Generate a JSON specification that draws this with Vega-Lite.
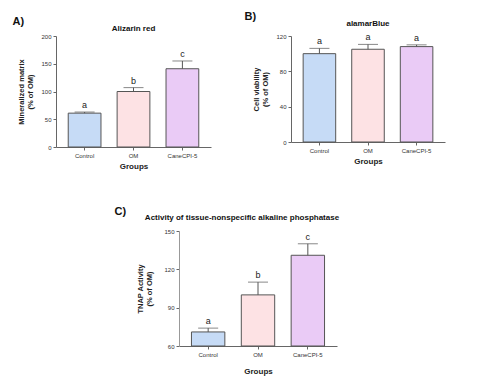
{
  "$schema": "https://vega.github.io/schema/vega-lite/v6.json",
  "background": "white",
  "padding": {"left": 12, "top": 11, "right": 5, "bottom": 5},
  "config": {
    "font": "Liberation Sans",
    "view": {"stroke": null},
    "axis": {"labelFont": "Liberation Sans", "titleFont": "Liberation Sans", "domainColor": "#666", "tickColor": "#666", "labelColor": "#333", "titleColor": "#222", "grid": false, "labelFontSize": 6, "titleFontSize": 7.5, "titleFontWeight": "bold", "tickSize": 3, "labelOverlap": false},
    "title": {"font": "Liberation Sans", "fontWeight": "bold", "color": "#111"}
  },
  "datasets": {
    "A": [
      {"group": "Control", "mean": 61, "err": 2, "letter": "a"},
      {"group": "OM", "mean": 100, "err": 7, "letter": "b"},
      {"group": "CaneCPI-5", "mean": 141, "err": 14, "letter": "c"}
    ],
    "B": [
      {"group": "Control", "mean": 100, "err": 6, "letter": "a"},
      {"group": "OM", "mean": 105, "err": 5.5, "letter": "a"},
      {"group": "CaneCPI-5", "mean": 108, "err": 2, "letter": "a"}
    ],
    "C": [
      {"group": "Control", "mean": 71, "err": 3, "letter": "a"},
      {"group": "OM", "mean": 100, "err": 10, "letter": "b"},
      {"group": "CaneCPI-5", "mean": 131, "err": 9, "letter": "c"}
    ],
    "empty": []
  },
  "spacing": 36,
  "vconcat": [
    {
      "spacing": 33,
      "align": "none",
      "hconcat": [
        {
          "title": {"text": "A)", "anchor": "start", "fontSize": 11, "dx": -5, "offset": -2},
          "vconcat": [
            {
              "title": {"text": "Alizarin red", "fontSize": 8, "offset": 0},
              "width": 155,
              "height": 111,
              "data": {"name": "A"},
              "transform": [{"calculate": "datum.mean + datum.err", "as": "hi"}],
              "encoding": {
                "x": {"field": "group", "type": "nominal", "sort": ["Control", "OM", "CaneCPI-5"], "scale": {"paddingInner": 0.33, "paddingOuter": 0.25}, "axis": {"title": "Groups", "labelAngle": 0, "titleFontSize": 8, "titlePadding": 4}},
                "y": {"field": "mean", "type": "quantitative", "scale": {"domain": [0, 200]}, "axis": {"values": [0, 50, 100, 150, 200], "title": ["Mineralized matrix", "(% of OM)"], "titlePadding": 6}}
              },
              "layer": [
                {"mark": {"type": "bar", "stroke": "#555", "strokeWidth": 1},
                 "encoding": {
                   "color": {"field": "group", "type": "nominal", "scale": {"domain": ["Control", "OM", "CaneCPI-5"], "range": ["#c6dbf6", "#fde2e4", "#eacbf6"]}, "legend": null}
                 }},
                {"mark": {"type": "rule", "color": "#555"}, "encoding": {"y2": {"field": "hi"}}},
                {"mark": {"type": "tick", "color": "#555", "size": 20, "thickness": 1, "orient": "horizontal"}, "encoding": {"y": {"field": "hi", "type": "quantitative", "scale": {"domain": [0, 200]}, "axis": {"values": [0, 50, 100, 150, 200], "title": ["Mineralized matrix", "(% of OM)"], "titlePadding": 6}}}},
                {"mark": {"type": "text", "fontSize": 9, "dy": -7, "color": "#222"}, "encoding": {"y": {"field": "hi", "type": "quantitative", "scale": {"domain": [0, 200]}, "axis": {"values": [0, 50, 100, 150, 200], "title": ["Mineralized matrix", "(% of OM)"], "titlePadding": 6}}, "text": {"field": "letter"}}}
              ]
            }
          ]
        },
        {
          "title": {"text": "B)", "anchor": "start", "fontSize": 11, "dx": -8, "offset": -2},
          "vconcat": [
            {
              "title": {"text": "alamarBlue", "fontSize": 8, "offset": 5},
              "width": 154,
              "height": 106,
              "data": {"name": "B"},
              "transform": [{"calculate": "datum.mean + datum.err", "as": "hi"}],
              "encoding": {
                "x": {"field": "group", "type": "nominal", "sort": ["Control", "OM", "CaneCPI-5"], "scale": {"paddingInner": 0.33, "paddingOuter": 0.25}, "axis": {"title": "Groups", "labelAngle": 0, "titleFontSize": 8, "titlePadding": 4}},
                "y": {"field": "mean", "type": "quantitative", "scale": {"domain": [0, 120]}, "axis": {"values": [0, 40, 80, 120], "title": ["Cell viability", "(% of OM)"], "titlePadding": 6}}
              },
              "layer": [
                {"mark": {"type": "bar", "stroke": "#555", "strokeWidth": 1},
                 "encoding": {
                   "color": {"field": "group", "type": "nominal", "scale": {"domain": ["Control", "OM", "CaneCPI-5"], "range": ["#c6dbf6", "#fde2e4", "#eacbf6"]}, "legend": null}
                 }},
                {"mark": {"type": "rule", "color": "#555"}, "encoding": {"y2": {"field": "hi"}}},
                {"mark": {"type": "tick", "color": "#555", "size": 20, "thickness": 1, "orient": "horizontal"}, "encoding": {"y": {"field": "hi", "type": "quantitative", "scale": {"domain": [0, 120]}, "axis": {"values": [0, 40, 80, 120], "title": ["Cell viability", "(% of OM)"], "titlePadding": 6}}}},
                {"mark": {"type": "text", "fontSize": 9, "dy": -7, "color": "#222"}, "encoding": {"y": {"field": "hi", "type": "quantitative", "scale": {"domain": [0, 120]}, "axis": {"values": [0, 40, 80, 120], "title": ["Cell viability", "(% of OM)"], "titlePadding": 6}}, "text": {"field": "letter"}}}
              ]
            }
          ]
        }
      ]
    },
    {
      "spacing": 20,
      "hconcat": [
        {
          "width": 38,
          "height": 10,
          "data": {"name": "empty"},
          "mark": {"type": "point", "opacity": 0},
          "encoding": {}
        },
        {
          "title": {"text": "C)", "anchor": "start", "fontSize": 11, "dx": -22, "offset": -3},
          "vconcat": [
            {
              "title": {"text": "Activity of tissue-nonspecific alkaline phosphatase", "fontSize": 8, "offset": 6, "dx": -16},
              "width": 158,
              "height": 115,
              "data": {"name": "C"},
              "transform": [{"calculate": "datum.mean + datum.err", "as": "hi"}],
              "encoding": {
                "x": {"field": "group", "type": "nominal", "sort": ["Control", "OM", "CaneCPI-5"], "scale": {"paddingInner": 0.33, "paddingOuter": 0.25}, "axis": {"title": "Groups", "labelAngle": 0, "titleFontSize": 8, "titlePadding": 10}},
                "y": {"field": "mean", "type": "quantitative", "scale": {"domain": [60, 150], "zero": false}, "axis": {"values": [60, 90, 120, 150], "title": ["TNAP Activity", "(% of OM)"], "titlePadding": 10, "domainColor": "#999"}}
              },
              "layer": [
                {"mark": {"type": "bar", "stroke": "#555", "strokeWidth": 1},
                 "encoding": {
                   "y2": {"datum": 60},
                   "color": {"field": "group", "type": "nominal", "scale": {"domain": ["Control", "OM", "CaneCPI-5"], "range": ["#c6dbf6", "#fde2e4", "#eacbf6"]}, "legend": null}
                 }},
                {"mark": {"type": "rule", "color": "#555"}, "encoding": {"y2": {"field": "hi"}}},
                {"mark": {"type": "tick", "color": "#555", "size": 20, "thickness": 1, "orient": "horizontal"}, "encoding": {"y": {"field": "hi", "type": "quantitative", "scale": {"domain": [60, 150], "zero": false}, "axis": {"values": [60, 90, 120, 150], "title": ["TNAP Activity", "(% of OM)"], "titlePadding": 10, "domainColor": "#999"}}}},
                {"mark": {"type": "text", "fontSize": 9, "dy": -7, "color": "#222"}, "encoding": {"y": {"field": "hi", "type": "quantitative", "scale": {"domain": [60, 150], "zero": false}, "axis": {"values": [60, 90, 120, 150], "title": ["TNAP Activity", "(% of OM)"], "titlePadding": 10, "domainColor": "#999"}}, "text": {"field": "letter"}}}
              ]
            }
          ]
        }
      ]
    }
  ]
}
